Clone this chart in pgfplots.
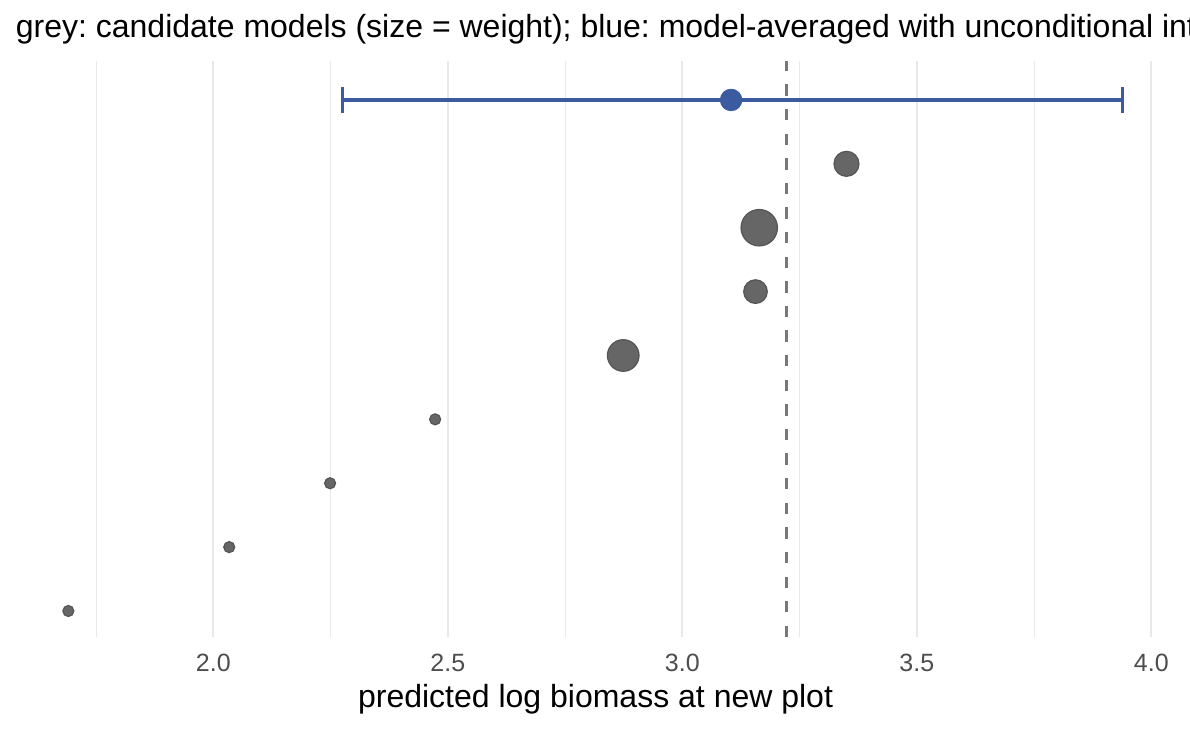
\documentclass[border=0pt]{standalone}
\usepackage{fontspec}
\setmainfont{Liberation Sans}
\usepackage{pgfplots}
\usepackage{pgfplotstable}
\pgfplotsset{compat=1.18}
\frenchspacing

\definecolor{avgblue}{HTML}{3B5BA0}
\definecolor{ptfill}{HTML}{666666}
\definecolor{ptedge}{HTML}{555555}
\definecolor{gridgrey}{HTML}{E8E8E8}
\definecolor{ticktext}{HTML}{4D4D4D}
\definecolor{dashgrey}{HTML}{787878}

% candidate models: prediction, row, marker radius (pt, grows with weight)
\pgfplotstableread{
x      y  r
3.350  8  6.25
3.164  7  9.1
3.156  6  5.9
2.874  5  7.9
2.473  4  2.75
2.249  3  2.75
2.034  2  2.75
1.691  1  2.75
}\models

\begin{document}
\begin{tikzpicture}
\useasboundingbox (0,0) rectangle (595pt,364.5pt);
\clip (0,0) rectangle (595pt,364.5pt);
\begin{axis}[
  at={(8.15pt,46pt)}, anchor=south west,
  scale only axis, width=579.25pt, height=288pt,
  xmin=1.58, xmax=4.05, ymin=0.593, ymax=9.61,
  axis line style={draw=none},
  ytick=\empty,
  xtick={2,2.5,3,3.5,4}, xticklabels={2.0,2.5,3.0,3.5,4.0},
  minor xtick={1.75,2.25,2.75,3.25,3.75},
  xmajorgrids, xminorgrids,
  major grid style={draw=gridgrey, line width=1pt},
  minor grid style={draw=gridgrey, line width=0.5pt},
  tick style={draw=none},
  major tick length=0pt, minor tick length=0pt,
  /pgf/number format/assume math mode=true,
  xticklabel style={font=\fontsize{12.5}{15}\selectfont, text=ticktext, anchor=base, yshift=-17.35pt},
  xlabel={predicted log biomass at new plot},
  xlabel style={font=\fontsize{16}{19}\selectfont, anchor=base, at={(axis description cs:0.5,0)}, yshift=-35pt},
]
% observed value at the new plot
\addplot[draw=dashgrey, line width=1.35pt, dash pattern=on 5.65pt off 6.65pt]
  coordinates {(3.222,0.593) (3.222,9.61)};
% model-averaged interval
\addplot[draw=avgblue, line width=1.75pt, mark=|, mark size=6.5pt, mark options={solid}]
  coordinates {(2.275,9) (3.938,9)};
\addplot[only marks, mark=*, mark size=5.4pt, draw=avgblue, fill=avgblue]
  coordinates {(3.104,9)};
% candidate models, sized by weight
\addplot[scatter, only marks, mark=*,
  scatter/use mapped color={draw=ptedge, fill=ptfill},
  visualization depends on={\thisrow{r}\as\rad},
  scatter/@pre marker code/.append style={/tikz/mark size=\rad pt},
  mark options={line width=0.6pt}]
  table[x=x, y=y] {\models};
\end{axis}
\node[anchor=base west, font=\fontsize{16}{19}\selectfont, inner sep=0pt]
  at (7.75pt,345.5pt) {grey: candidate models (size = weight); blue: model-averaged with unconditional intervals};
\end{tikzpicture}
\end{document}
